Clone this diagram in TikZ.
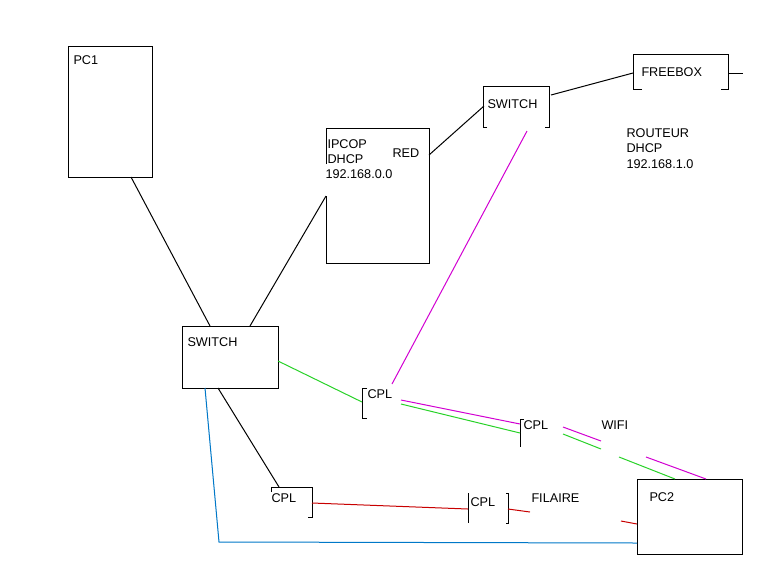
\documentclass[tikz,border=0pt]{standalone}
\usepackage{fontspec}
\setmainfont{Liberation Sans}
\usetikzlibrary{fit}
\definecolor{lgreen}{RGB}{40,210,40}
\definecolor{lmag}{RGB}{210,0,210}
\definecolor{lred}{RGB}{200,0,0}
\definecolor{lblue}{RGB}{0,120,200}
\begin{document}
\begin{tikzpicture}[x=0.75pt,y=-0.75pt,line width=0.75pt,
  lbl/.style={anchor=base west,inner sep=0pt,font=\fontsize{9.5}{11}\selectfont},
  box/.style={draw,rectangle,inner sep=0pt},
  wire/.style={draw,black},
  gwire/.style={draw,lgreen},
  mwire/.style={draw,lmag},
  rwire/.style={draw,lred},
  bwire/.style={draw,lblue}]
\useasboundingbox[fill=white] (0,0) rectangle (768,576);

% full boxes
\node[box,fit={(68,46) (152,177)}] (pc1) {};
\node[box,fit={(182,326) (278,388)}] (sw1) {};
\node[box,fit={(637,479) (742,554)}] (pc2) {};

% partial boxes
\draw (326,164) -- (326,128) -- (429,128) -- (429,263) -- (326,263) -- (326,196);
\draw (487,127) -- (483,127) -- (483,86) -- (549,86) -- (549,127) -- (545,127);
\draw (642,89) -- (633,89) -- (633,54) -- (728,54) -- (728,89) -- (721,89);
\draw (367,388) -- (362,388) -- (362,418) -- (367,418);
\draw (524,419) -- (520,419) -- (520,447);
\draw (271,492) -- (271,487) -- (312,487) -- (312,517) -- (308,517);
\draw (468,493) -- (468,523);
\draw (506,493) -- (508,493) -- (508,523) -- (506,523);

% labels
\node[lbl] (tpc1) at (73,64) {PC1};
\node[lbl] (tfree) at (641,76) {FREEBOX};
\node[lbl] (tsw2) at (487,108) {SWITCH};
\node[lbl] (tipcop) at (327,148) {IPCOP};
\node[lbl] (tdhcp1) at (327,163) {DHCP};
\node[lbl] (tip1) at (325,178) {192.168.0.0};
\node[lbl] (tred) at (392,157) {RED};
\node[lbl] (trout) at (626,137) {ROUTEUR};
\node[lbl] (tdhcp2) at (626,152) {DHCP};
\node[lbl] (tip2) at (626,168) {192.168.1.0};
\node[lbl] (tsw1) at (187,346) {SWITCH};
\node[lbl] (tcpl1) at (367,398) {CPL};
\node[lbl] (tcpl2) at (523,429) {CPL};
\node[lbl] (twifi) at (601,429) {WIFI};
\node[lbl] (tcpl3) at (271,502) {CPL};
\node[lbl] (tcpl4) at (470,506) {CPL};
\node[lbl] (tfil) at (531,502) {FILAIRE};
\node[lbl] (tpc2) at (649,501) {PC2};

% connector end points
\coordinate (pc1b) at (131,177);
\coordinate (sw1t1) at (210,326);
\coordinate (ipl) at (326,196);
\coordinate (sw1t2) at (250,326);
\coordinate (ipr) at (429,155);
\coordinate (sw2l) at (484,106);
\coordinate (sw2r) at (551,95);
\coordinate (frl) at (633,73);
\coordinate (frr) at (728,73);
\coordinate (frs) at (743,73);
\coordinate (sw1r) at (278,361);
\coordinate (c1l) at (362,402);
\coordinate (sw2b) at (527,131);
\coordinate (c1t) at (392,384);
\coordinate (c1m) at (401,400);
\coordinate (c1g) at (401,404);
\coordinate (c2m) at (520,424);
\coordinate (c2g) at (520,433);
\coordinate (wm1a) at (563,427);
\coordinate (wm1b) at (601,441);
\coordinate (wg1a) at (563,434);
\coordinate (wg1b) at (601,449);
\coordinate (wg2a) at (619,457);
\coordinate (wg2b) at (675,479);
\coordinate (wm2a) at (646,457);
\coordinate (wm2b) at (706,479);
\coordinate (sw1b1) at (218,388);
\coordinate (c3t) at (279,487);
\coordinate (c3r) at (312,503);
\coordinate (c4l) at (468,509);
\coordinate (c4r) at (508,509);
\coordinate (c4e) at (530,512);
\coordinate (rs) at (621,521);
\coordinate (pc2l) at (637,524);
\coordinate (sw1b2) at (205,388);
\coordinate (bc) at (219,542);
\coordinate (pc2lb) at (637,543);

% connectors
\path[wire] (pc1b) -- (sw1t1);
\path[wire] (ipl) -- (sw1t2);
\path[wire] (ipr) -- (sw2l);
\path[wire] (sw2r) -- (frl);
\path[wire] (frr) -- (frs);
\path[wire] (sw1b1) -- (c3t);
\path[gwire] (sw1r) -- (c1l);
\path[mwire] (sw2b) -- (c1t);
\path[mwire] (c1m) -- (c2m);
\path[gwire] (c1g) -- (c2g);
\path[mwire] (wm1a) -- (wm1b);
\path[gwire] (wg1a) -- (wg1b);
\path[gwire] (wg2a) -- (wg2b);
\path[mwire] (wm2a) -- (wm2b);
\path[rwire] (c3r) -- (c4l);
\path[rwire] (c4r) -- (c4e);
\path[rwire] (rs) -- (pc2l);
\path[bwire] (sw1b2) -- (bc) -- (pc2lb);
\end{tikzpicture}
\end{document}
